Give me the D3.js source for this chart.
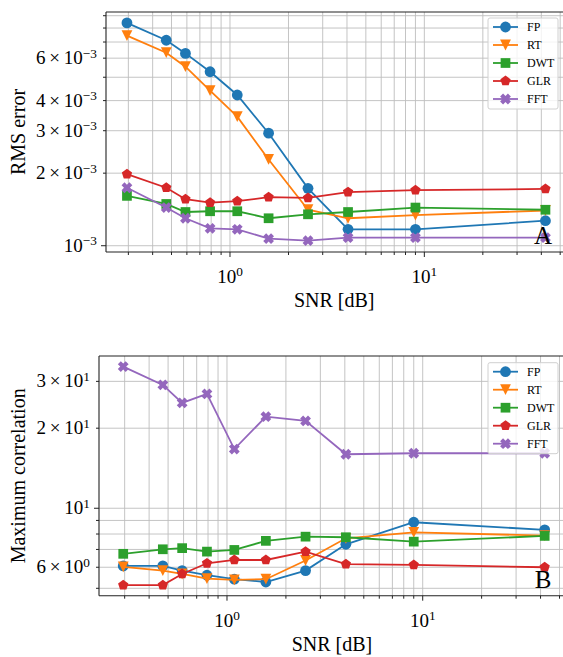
<!DOCTYPE html>
<html>
<head>
<meta charset="utf-8">
<script src="https://cdn.jsdelivr.net/npm/d3@7"></script>
<style>
  body { margin: 0; background: #fff; }
  svg text { font-family: "Liberation Serif", "Times New Roman", "DejaVu Serif", serif; fill: #000; }
</style>
</head>
<body>
<svg id="chart" width="563" height="657" font-family="Liberation Serif, Times New Roman, serif"></svg>
<script>
// SNR values shared by both panels
var snr = [0.295, 0.47, 0.59, 0.79, 1.09, 1.58, 2.52, 4.05, 9.0, 42];
var methods = ["FP", "RT", "DWT", "GLR", "FFT"];
var colors = ["#1f77b4", "#ff7f0e", "#2ca02c", "#d62728", "#9467bd"];
var markers = ["circle", "triangleDown", "square", "pentagon", "x"];

// panel A: RMS error
var rmsFP  = [8.40e-3, 7.12e-3, 6.28e-3, 5.27e-3, 4.22e-3, 2.93e-3, 1.73e-3, 1.17e-3, 1.17e-3, 1.27e-3];
var rmsRT  = [7.44e-3, 6.32e-3, 5.53e-3, 4.40e-3, 3.43e-3, 2.28e-3, 1.41e-3, 1.30e-3, 1.34e-3, 1.40e-3];
var rmsDWT = [1.61e-3, 1.49e-3, 1.38e-3, 1.39e-3, 1.39e-3, 1.30e-3, 1.35e-3, 1.38e-3, 1.44e-3, 1.41e-3];
var rmsGLR = [1.98e-3, 1.74e-3, 1.56e-3, 1.51e-3, 1.53e-3, 1.59e-3, 1.58e-3, 1.67e-3, 1.70e-3, 1.72e-3];
var rmsFFT = [1.74e-3, 1.44e-3, 1.30e-3, 1.18e-3, 1.17e-3, 1.07e-3, 1.05e-3, 1.08e-3, 1.08e-3, 1.08e-3];

// panel B: maximum correlation
var corrFP  = [6.07, 6.07, 5.83, 5.60, 5.41, 5.28, 5.83, 7.32, 8.86, 8.29];
var corrRT  = [6.02, 5.83, 5.66, 5.44, 5.38, 5.41, 6.36, 7.71, 8.12, 7.89];
var corrDWT = [6.74, 7.01, 7.08, 6.87, 6.97, 7.54, 7.82, 7.78, 7.49, 7.87];
var corrGLR = [5.14, 5.14, 5.66, 6.21, 6.39, 6.39, 6.87, 6.16, 6.12, 6.00];
var corrFFT = [34.1, 29.1, 24.9, 26.9, 16.7, 22.1, 21.3, 15.96, 16.1, 16.1];

// ticks
var xGridTicks = [0.3, 0.4, 0.5, 0.6, 0.7, 0.8, 0.9, 1, 2, 3, 4, 5, 6, 7, 8, 9, 10, 20, 30, 40, 50];
var xMajorTicks = [1, 10];
var rmsGridTicks = [1e-3, 2e-3, 3e-3, 4e-3, 5e-3, 6e-3, 7e-3, 8e-3, 9e-3];
var rmsTickLabels = [1e-3, 2e-3, 3e-3, 4e-3, 6e-3];
var corrGridTicks = [5, 6, 7, 8, 9, 10, 20, 30];
var corrTickLabels = [6, 10, 20, 30];

var svg = d3.select("#chart");

function markerPath(type, r) {
  if (type === "circle") {
    return d3.symbol().type(d3.symbolCircle).size(Math.PI * r * r)();
  }
  if (type === "square") {
    var s = r * 0.9;
    return "M" + (-s) + "," + (-s) + "H" + s + "V" + s + "H" + (-s) + "Z";
  }
  if (type === "triangleDown") {
    return "M" + (-r) + "," + (-r) + "L" + r + "," + (-r) + "L0," + r + "Z";
  }
  if (type === "pentagon") {
    var pts = d3.range(5).map(function(i) {
      var a = -Math.PI / 2 + i * 2 * Math.PI / 5;
      return [r * Math.cos(a), r * Math.sin(a)];
    });
    return "M" + pts.join("L") + "Z";
  }
  // filled X
  var w = r * 0.55, l = r;
  var p = [[-w, 0], [-l, -l + w], [-l + w, -l], [0, -w], [l - w, -l], [l, -l + w],
           [w, 0], [l, l - w], [l - w, l], [0, w], [-l + w, l], [-l, l - w]];
  return "M" + p.join("L") + "Z";
}

function addLabel(sel, v) {
  var e = Math.floor(Math.log10(v) + 1e-9);
  var m = Math.round(v / Math.pow(10, e));
  var expText = (e < 0 ? "\u2212" + (-e) : "" + e);
  sel.append("tspan").text(m === 1 ? "10" : m + "\u2009\u00d7\u200910");
  sel.append("tspan").attr("dy", "-0.5em").attr("font-size", "0.7em").text(expText);
}

function drawPanel(cfg) {
  var x = cfg.x, y = cfg.y;
  var x0 = x.range()[0], x1 = x.range()[1];
  var yb = y.range()[0], yt = y.range()[1];
  var g = svg.append("g");

  // grid
  g.selectAll(".vgrid").data(xGridTicks).enter().append("line")
    .attr("x1", d => x(d)).attr("x2", d => x(d))
    .attr("y1", yt).attr("y2", yb)
    .attr("stroke", "#bdbdbd").attr("stroke-width", 0.9);
  g.selectAll(".hgrid").data(cfg.yGrid).enter().append("line")
    .attr("x1", x0).attr("x2", x1)
    .attr("y1", d => y(d)).attr("y2", d => y(d))
    .attr("stroke", "#bdbdbd").attr("stroke-width", 0.9);

  // series
  cfg.series.forEach(function(vals, i) {
    var line = d3.line().x((d, j) => x(snr[j])).y(d => y(d));
    g.append("path").datum(vals)
      .attr("d", line).attr("fill", "none")
      .attr("stroke", colors[i]).attr("stroke-width", 1.8);
    g.selectAll(".m" + i).data(vals).enter().append("path")
      .attr("transform", (d, j) => "translate(" + x(snr[j]) + "," + y(d) + ")")
      .attr("d", markerPath(markers[i], 5.4))
      .attr("fill", colors[i]);
  });

  // spines
  g.append("line").attr("x1", x0).attr("x2", x0).attr("y1", yt).attr("y2", yb)
    .attr("stroke", "#222").attr("stroke-width", 1.1);
  g.append("line").attr("x1", x0).attr("x2", x1).attr("y1", yb).attr("y2", yb)
    .attr("stroke", "#222").attr("stroke-width", 1.1);
  g.append("line").attr("x1", x0).attr("x2", x1).attr("y1", yt).attr("y2", yt)
    .attr("stroke", "#222").attr("stroke-width", 1.1);
  g.append("line").attr("x1", x1).attr("x2", x1).attr("y1", yt).attr("y2", yb)
    .attr("stroke", "#222").attr("stroke-width", 1.1);

  // tick marks
  g.selectAll(".xt").data(xGridTicks).enter().append("line")
    .attr("x1", d => x(d)).attr("x2", d => x(d))
    .attr("y1", yb).attr("y2", d => yb + (xMajorTicks.indexOf(d) >= 0 ? 5 : 3))
    .attr("stroke", "#222").attr("stroke-width", 1);
  g.selectAll(".yt").data(cfg.yGrid).enter().append("line")
    .attr("x1", d => x0 - (cfg.yMajor.indexOf(d) >= 0 ? 5 : 3)).attr("x2", x0)
    .attr("y1", d => y(d)).attr("y2", d => y(d))
    .attr("stroke", "#222").attr("stroke-width", 1);

  // tick labels
  g.selectAll(".xl").data(xMajorTicks).enter().append("text")
    .attr("x", d => x(d)).attr("y", yb + 31)
    .attr("text-anchor", "middle").attr("font-size", 19)
    .each(function(d) { addLabel(d3.select(this), d); });
  g.selectAll(".yl").data(cfg.yLabels).enter().append("text")
    .attr("x", x0 - 9).attr("y", d => y(d) + 6)
    .attr("text-anchor", "end").attr("font-size", 19)
    .each(function(d) { addLabel(d3.select(this), d); });

  // axis titles
  g.append("text")
    .attr("x", (x0 + x1) / 2 - 2).attr("y", yb + 55)
    .attr("text-anchor", "middle").attr("font-size", 20)
    .text("SNR [dB]");
  g.append("text")
    .attr("transform", "translate(25," + ((yb + yt) / 2) + ") rotate(-90)")
    .attr("text-anchor", "middle").attr("font-size", 20)
    .text(cfg.yTitle);

  // panel letter
  g.append("text")
    .attr("x", 543).attr("y", yb - 8)
    .attr("text-anchor", "middle").attr("font-size", 25)
    .text(cfg.letter);

  // legend
  var lg = g.append("g").attr("transform", "translate(488," + cfg.legendTop + ")");
  lg.append("rect").attr("width", 70).attr("height", 91).attr("rx", 2)
    .attr("fill", "#fff").attr("fill-opacity", 0.8)
    .attr("stroke", "#d0d0d0").attr("stroke-width", 1);
  methods.forEach(function(name, i) {
    var ly = 9 + i * 18;
    lg.append("line").attr("x1", 5).attr("x2", 30).attr("y1", ly).attr("y2", ly)
      .attr("stroke", colors[i]).attr("stroke-width", 1.8);
    lg.append("path").attr("transform", "translate(17.5," + ly + ")")
      .attr("d", markerPath(markers[i], 5.4)).attr("fill", colors[i]);
    lg.append("text").attr("x", 39).attr("y", ly + 4.2)
      .attr("font-size", 12).text(name);
  });
}

drawPanel({
  x: d3.scaleLog().domain([Math.pow(10, -0.638), Math.pow(10, 1.731)]).range([106, 566.4]),
  y: d3.scaleLog().domain([0.9418e-3, 9.325e-3]).range([252, 12]),
  series: [rmsFP, rmsRT, rmsDWT, rmsGLR, rmsFFT],
  yGrid: rmsGridTicks,
  yMajor: [1e-3],
  yLabels: rmsTickLabels,
  yTitle: "RMS error",
  letter: "A",
  legendTop: 18
});

drawPanel({
  x: d3.scaleLog().domain([Math.pow(10, -0.654), Math.pow(10, 1.747)]).range([99, 568.9]),
  y: d3.scaleLog().domain([4.69, 37.37]).range([595.7, 356]),
  series: [corrFP, corrRT, corrDWT, corrGLR, corrFFT],
  yGrid: corrGridTicks,
  yMajor: [10],
  yLabels: corrTickLabels,
  yTitle: "Maximum correlation",
  letter: "B",
  legendTop: 362.7
});
</script>
</body>
</html>
